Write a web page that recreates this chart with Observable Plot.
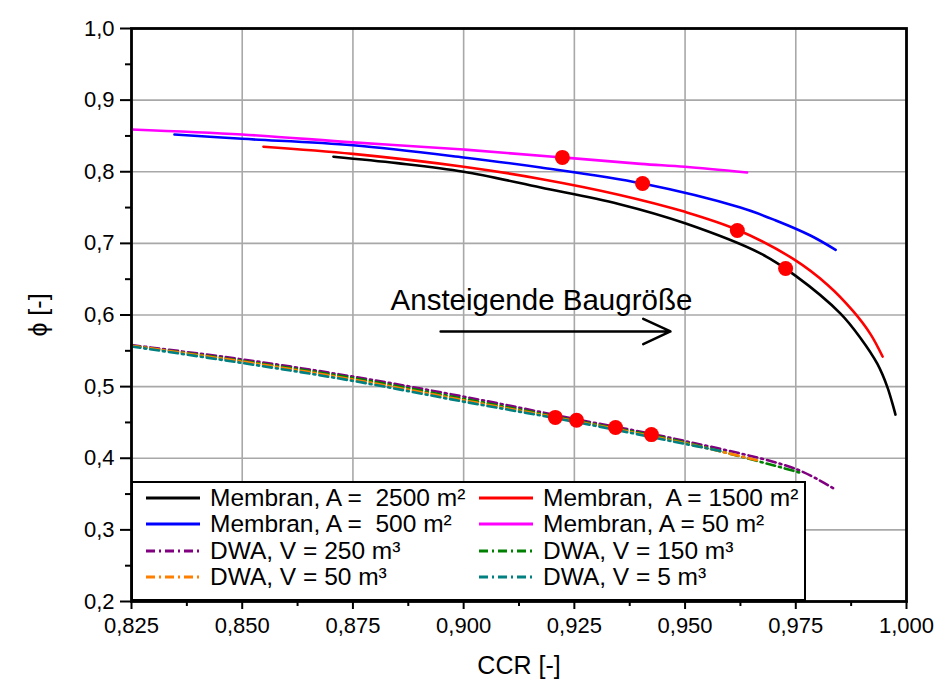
<!DOCTYPE html>
<html><head><meta charset="utf-8">
<script src="https://cdn.jsdelivr.net/npm/d3@7"></script>
<script src="https://cdn.jsdelivr.net/npm/@observablehq/plot@0.6"></script>
<style>
body{margin:0;background:#fff;font-family:"Liberation Sans",Arial,sans-serif}
#wrap{position:relative;width:936px;height:690px}
#legend{position:absolute;left:131px;top:481px;width:675px;height:120px;border:2px solid #000;box-sizing:border-box;background:#fff}
.entry{position:absolute;display:flex;align-items:center;font-size:24.5px;white-space:pre;line-height:1}
</style></head><body><div id="wrap"></div>
<script>
// ---- data ----
const m2500X = [0.8706, 0.885, 0.900, 0.9174, 0.935, 0.950, 0.967, 0.9749, 0.9851, 0.9896, 0.9934, 0.9957, 0.9975];
const m2500Y = [0.821, 0.812, 0.800, 0.778, 0.755, 0.728, 0.686, 0.655, 0.602, 0.568, 0.532, 0.499, 0.461];
const m1500X = [0.8548, 0.875, 0.900, 0.9174, 0.935, 0.950, 0.9618, 0.9745, 0.9822, 0.988, 0.9919, 0.9946];
const m1500Y = [0.835, 0.825, 0.807, 0.790, 0.768, 0.744, 0.719, 0.678, 0.642, 0.605, 0.573, 0.542];
const m500X = [0.8347, 0.850, 0.875, 0.900, 0.9174, 0.9404, 0.9625, 0.9705, 0.9783, 0.984];
const m500Y = [0.852, 0.846, 0.837, 0.820, 0.806, 0.7835, 0.750, 0.732, 0.711, 0.691];
const m50X = [0.825, 0.850, 0.875, 0.900, 0.9223, 0.940, 0.950, 0.964];
const m50Y = [0.859, 0.852, 0.841, 0.831, 0.820, 0.811, 0.807, 0.799];
const d250X = [0.825, 0.850, 0.875, 0.900, 0.925, 0.950, 0.975, 0.9835];
const d250Y = [0.558, 0.538, 0.514, 0.486, 0.455, 0.424, 0.385, 0.358];
const d150X = [0.825, 0.850, 0.875, 0.900, 0.925, 0.950, 0.9765];
const d150Y = [0.557, 0.536, 0.512, 0.483, 0.453, 0.422, 0.379];
const d50X = [0.825, 0.850, 0.875, 0.900, 0.925, 0.950, 0.967];
const d50Y = [0.557, 0.535, 0.510, 0.481, 0.452, 0.421, 0.396];
const d5X = [0.825, 0.850, 0.875, 0.900, 0.925, 0.950, 0.958];
const d5Y = [0.556, 0.533, 0.508, 0.479, 0.451, 0.420, 0.410];
const dotX = [0.9223, 0.9404, 0.9618, 0.9727, 0.9207, 0.9255, 0.9343, 0.9424];
const dotY = [0.820, 0.7835, 0.718, 0.665, 0.457, 0.453, 0.443, 0.433];
const xTicks = [0.825, 0.850, 0.875, 0.900, 0.925, 0.950, 0.975, 1.000];
const xMinor = [0.8375, 0.8625, 0.8875, 0.9125, 0.9375, 0.9625, 0.9875];
const yTicks = [0.2, 0.3, 0.4, 0.5, 0.6, 0.7, 0.8, 0.9, 1.0];
const yMinor = [0.25, 0.35, 0.45, 0.55, 0.65, 0.75, 0.85, 0.95];
const seriesNames = ["Membran, A =  2500 m²", "Membran,  A = 1500 m²", "Membran, A =  500 m²", "Membran, A = 50 m²",
  "DWA, V = 250 m³", "DWA, V = 150 m³", "DWA, V = 50 m³", "DWA, V = 5 m³"];
const seriesColors = ["#000000", "#ff0000", "#0000ff", "#ff00ff", "#800080", "#008000", "#ff8000", "#008080"];
const seriesDash = [null, null, null, null, "9,4,2,4", "9,4,2,4", "9,4,2,4", "9,4,2,4"];
const annText = ["Ansteigende Baugröße"];
const annTextX = [0.8835], annTextY = [0.620];
const arrowX1 = [0.8948], arrowX2 = [0.9467], arrowY = [0.577];

// ---- build tables ----
const seriesXs = [m2500X, m1500X, m500X, m50X, d250X, d150X, d50X, d5X];
const seriesYs = [m2500Y, m1500Y, m500Y, m50Y, d250Y, d150Y, d50Y, d5Y];
const drawOrder = [4, 5, 6, 7, 0, 1, 2, 3];
const comma = (f) => (d) => d3.format(f)(d).replace(".", ",");

const lineMarks = drawOrder.map(i => Plot.line(seriesXs[i].map((x, j) => ({x, y: seriesYs[i][j]})), {
  x: "x", y: "y", stroke: seriesColors[i], strokeWidth: 2.6,
  strokeDasharray: seriesDash[i] || undefined, curve: "catmull-rom"
}));

const chart = Plot.plot({
  width: 936, height: 690,
  marginLeft: 131, marginRight: 30, marginTop: 28, marginBottom: 89,
  style: {fontFamily: "Liberation Sans, Arial, sans-serif", fontSize: "22px", background: "#fff", color: "#000"},
  x: {domain: [0.825, 1.0]},
  y: {domain: [0.2, 1.0]},
  marks: [
    Plot.gridX(xTicks, {stroke: "#a8a8a8", strokeOpacity: 1, strokeWidth: 1.6}),
    Plot.gridY(yTicks, {stroke: "#a8a8a8", strokeOpacity: 1, strokeWidth: 1.6}),
    ...lineMarks,
    Plot.dot(dotX.map((x, j) => ({x, y: dotY[j]})), {x: "x", y: "y", r: 7.5, fill: "#ff0000", stroke: "none"}),
    Plot.text(annText, {x: annTextX, y: annTextY, text: d => d, textAnchor: "start", fontSize: 29.5, fill: "#000"}),
    Plot.arrow([0], {x1: arrowX1[0], x2: arrowX2[0], y1: arrowY[0], y2: arrowY[0], stroke: "#000", strokeWidth: 2.5, headLength: 18, headAngle: 50}),
    Plot.axisX(xTicks, {tickSize: 8, tickPadding: 8, tickFormat: comma(".3f"), strokeWidth: 2, fontSize: 22, label: null}),
    Plot.axisX(xMinor, {tickSize: 5, fill: "none", strokeWidth: 2, label: null}),
    Plot.axisX({ticks: [], tickSize: 0, label: "CCR [-]", labelAnchor: "center", labelArrow: "none", labelOffset: 72, fontSize: 25}),
    Plot.axisY(yTicks, {tickSize: 11, tickPadding: 6, tickFormat: comma(".1f"), strokeWidth: 2, fontSize: 22, label: null}),
    Plot.axisY(yMinor, {tickSize: 6, fill: "none", strokeWidth: 2, label: null}),
    Plot.axisY({ticks: [], tickSize: 0, label: "ϕ [-]", labelAnchor: "center", labelArrow: "none", labelOffset: 102, fontSize: 25}),
    Plot.frame({stroke: "#000", strokeWidth: 2.8})
  ]
});
const wrap = document.getElementById("wrap");
wrap.appendChild(chart);

// ---- legend (inside plot area, drawn as overlay) ----
const legend = document.createElement("div");
legend.id = "legend";
wrap.appendChild(legend);
const colLeft = [12, 345], rowTop = [15, 41, 68, 94];
seriesNames.forEach((name, i) => {
  const e = document.createElement("div");
  e.className = "entry";
  const col = i % 2, row = Math.floor(i / 2);
  e.style.left = colLeft[col] + "px";
  e.style.top = (rowTop[row] - 12) + "px";
  const dash = seriesDash[i] ? `stroke-dasharray="${seriesDash[i]}"` : "";
  e.innerHTML = `<svg width="56" height="10" style="margin-right:9px"><line x1="1" y1="5" x2="55" y2="5" stroke="${seriesColors[i]}" stroke-width="3" ${dash}/></svg><span>${name}</span>`;
  legend.appendChild(e);
});
</script></body></html>
